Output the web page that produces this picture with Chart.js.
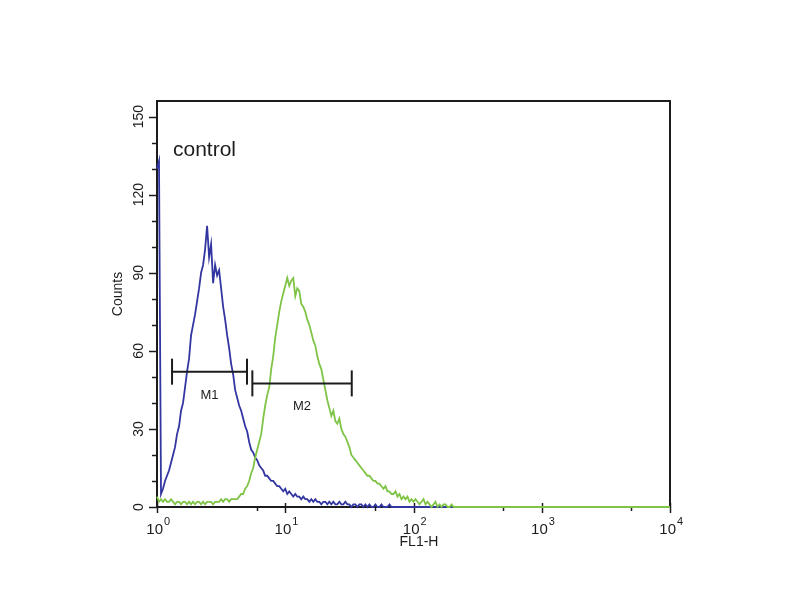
<!DOCTYPE html>
<html>
<head>
<meta charset="utf-8">
<script src="https://cdn.jsdelivr.net/npm/chart.js@4.4.0/dist/chart.umd.min.js"></script>
<style>
  body { margin: 0; background: #fff; }
  canvas { display: block; }
</style>
</head>
<body>
<canvas id="facsChart" width="800" height="600"></canvas>
<script>
// FL1-H channel numbers (1024 channels over 4 log decades)
const channels = [
  0, 4, 8, 12, 16, 20, 24, 28, 32, 36,
  40, 44, 48, 52, 56, 60, 64, 68, 72, 76,
  80, 84, 88, 92, 96, 100, 104, 108, 112, 116,
  120, 124, 128, 132, 136, 140, 144, 148, 152, 156,
  160, 164, 168, 172, 176, 180, 184, 188, 192, 196,
  200, 204, 208, 212, 216, 220, 224, 228, 232, 236,
  240, 244, 248, 252, 256, 260, 264, 268, 272, 276,
  280, 284, 288, 292, 296, 300, 304, 308, 312, 316,
  320, 324, 328, 332, 336, 340, 344, 348, 352, 356,
  360, 364, 368, 372, 376, 380, 384, 388, 392, 396,
  400, 404, 408, 412, 416, 420, 424, 428, 432, 436,
  440, 444, 448, 452, 456, 460, 464, 468, 472, 476,
  480, 484, 488, 492, 496, 500, 504, 508, 512, 516,
  520, 524, 528, 532, 536, 540, 544, 548, 552, 556,
  560, 564, 568, 572, 576, 580, 584, 588, 592, 596,
  600,
  640, 700, 800, 900, 1024
];

// control (blue) histogram counts
const blueCounts = [
  130, 133, 5, 7, 10, 12, 14, 17, 20, 23,
  28, 31, 37, 40, 46, 52, 57, 66, 70, 74,
  79, 84, 90, 93, 99, 108, 96, 101, 86, 93,
  89, 91, 84, 77, 72, 66, 61, 55, 51, 45,
  42, 39, 37, 34, 31, 29, 25, 22, 21, 19,
  18, 16, 15, 14, 12, 12, 11, 10, 10, 9,
  8, 8, 7, 6, 7, 5, 6, 5, 4, 5,
  4, 4, 3, 4, 3, 3, 2, 3, 2, 3,
  2, 2, 1, 2, 2, 1, 2, 1, 2, 1,
  1, 2, 1, 1, 2, 1, 1, 0, 1, 1,
  0, 1, 1, 0, 1, 0, 1, 0, 0, 1,
  0, 0, 1, 0, 0, 0, 1, 0, 0, 0,
  0, 0, 0, 0, 0, 0, 0, 0, 0, 0,
  0, 0, 0, 0, 0, 0, 0, 0, 0, 0,
  0, 0, 0, 0, 0, 0, 0, 0, 0, 0,
  0,
  0, 0, 0, 0, 0
];

// antibody (green) histogram counts
const greenCounts = [
  4, 2, 3, 2, 3, 2, 2, 3, 2, 1,
  2, 2, 1, 2, 2, 1, 2, 1, 2, 1,
  2, 2, 1, 2, 1, 2, 2, 2, 1, 2,
  2, 2, 3, 2, 3, 3, 2, 3, 3, 3,
  3, 4, 5, 5, 7, 8, 10, 13, 15, 19,
  22, 25, 28, 34, 39, 43, 46, 53, 58, 65,
  70, 75, 79, 82, 85, 88, 85, 87, 88, 81,
  84, 83, 78, 77, 75, 72, 70, 67, 64, 62,
  58, 55, 53, 49, 45, 41, 38, 35, 37, 33,
  32, 34, 30, 28, 27, 25, 23, 20, 19, 18,
  17, 16, 15, 14, 13, 12, 12, 11, 10, 10,
  9, 9, 8, 7, 8, 6, 6, 5, 5, 6,
  4, 5, 3, 4, 3, 4, 2, 3, 2, 3,
  2, 1, 2, 3, 1, 2, 1, 0, 1, 2,
  0, 1, 0, 1, 1, 0, 0, 1, 0, 0,
  0,
  0, 0, 0, 0, 0
];

const yTickLabels = [0, 30, 60, 90, 120, 150];
const xDecades = [0, 1, 2, 3, 4];

// marker gates (FL1-H range, count level)
const m1Range = [1.31, 5.03];
const m1Level = 52;
const m2Range = [5.54, 33];
const m2Level = 47.5;

function toPoints(counts) {
  return channels.map((ch, i) => ({ x: Math.pow(10, ch / 256), y: counts[i] }));
}

function markerData(range, level) {
  return [{ x: range[0], y: level }, { x: range[1], y: level }];
}

const FONT = '"Liberation Sans", Arial, sans-serif';

const facsDecor = {
  id: 'facsDecor',
  beforeDatasetsDraw(chart) {
    const { ctx, chartArea: a, scales: { x, y } } = chart;
    ctx.save();
    ctx.strokeStyle = '#1c1c1c';
    ctx.fillStyle = '#1c1c1c';
    ctx.lineWidth = 2;
    ctx.strokeRect(a.left, a.top, a.right - a.left, a.bottom - a.top);

    // y ticks every 5 counts
    ctx.lineWidth = 1.5;
    y.ticks.forEach(t => {
      if (t.value % 5 !== 0) return;
      const py = Math.round(y.getPixelForValue(t.value)) + 0.5;
      const len = t.value % 30 === 0 ? 8 : 5;
      ctx.beginPath();
      ctx.moveTo(a.left - len, py);
      ctx.lineTo(a.left, py);
      ctx.stroke();
    });

    // x ticks at 1..9 x 10^n
    x.ticks.forEach(t => {
      const e = Math.floor(Math.log10(t.value) + 1e-9);
      const sig = t.value / Math.pow(10, e);
      if (Math.abs(sig - Math.round(sig)) > 1e-6) return;
      const major = Math.round(sig) === 1;
      const px = Math.round(x.getPixelForValue(t.value)) + 0.5;
      ctx.beginPath();
      ctx.moveTo(px, a.bottom - (major ? 4 : 0));
      ctx.lineTo(px, a.bottom + (major ? 6 : 4));
      ctx.stroke();
    });

    // y labels, rotated
    ctx.font = '14px ' + FONT;
    ctx.textAlign = 'center';
    ctx.textBaseline = 'middle';
    yTickLabels.forEach(v => {
      const py = y.getPixelForValue(v);
      ctx.save();
      ctx.translate(a.left - 18, py);
      ctx.rotate(-Math.PI / 2);
      ctx.fillText(String(v), 0, 0);
      ctx.restore();
    });

    // x labels 10^n
    ctx.textBaseline = 'alphabetic';
    xDecades.forEach(d => {
      const px = x.getPixelForValue(Math.pow(10, d));
      ctx.font = '15px ' + FONT;
      ctx.textAlign = 'right';
      ctx.fillText('10', px + 6, a.bottom + 27);
      ctx.font = '11px ' + FONT;
      ctx.textAlign = 'left';
      ctx.fillText(String(d), px + 7, a.bottom + 18);
    });

    // axis titles
    ctx.font = '14px ' + FONT;
    ctx.textAlign = 'center';
    ctx.fillText('FL1-H', 419, a.bottom + 39);
    ctx.save();
    ctx.translate(118, 294);
    ctx.rotate(-Math.PI / 2);
    ctx.textBaseline = 'middle';
    ctx.fillText('Counts', 0, 0);
    ctx.restore();

    // sample name
    ctx.font = '21px ' + FONT;
    ctx.textAlign = 'left';
    ctx.fillText('control', a.left + 16, a.top + 55);

    // marker labels
    ctx.font = '13px ' + FONT;
    ctx.textAlign = 'center';
    [[m1Range, m1Level, 'M1'], [m2Range, m2Level, 'M2']].forEach(([r, lvl, name]) => {
      const px = x.getPixelForValue(Math.sqrt(r[0] * r[1]));
      const py = y.getPixelForValue(lvl);
      ctx.fillText(name, px, py + 27);
    });
    ctx.restore();
  }
};

const ctx = document.getElementById('facsChart').getContext('2d');
new Chart(ctx, {
  type: 'line',
  data: {
    datasets: [
      {
        data: markerData(m1Range, m1Level),
        borderColor: '#1c1c1c',
        borderWidth: 2,
        pointStyle: 'line',
        pointRotation: 90,
        pointRadius: 13,
        pointBorderWidth: 2,
        pointBorderColor: '#1c1c1c'
      },
      {
        data: markerData(m2Range, m2Level),
        borderColor: '#1c1c1c',
        borderWidth: 2,
        pointStyle: 'line',
        pointRotation: 90,
        pointRadius: 13,
        pointBorderWidth: 2,
        pointBorderColor: '#1c1c1c'
      },
      {
        data: toPoints(greenCounts),
        borderColor: '#7fc447',
        borderWidth: 1.8,
        pointRadius: 0,
        clip: false
      },
      {
        data: toPoints(blueCounts),
        borderColor: '#3236a0',
        borderWidth: 1.8,
        pointRadius: 0,
        clip: false
      }
    ]
  },
  options: {
    responsive: false,
    animation: false,
    layout: { padding: { left: 157, right: 130, top: 101, bottom: 93 } },
    scales: {
      x: { type: 'logarithmic', min: 1, max: 10000, display: false },
      y: { type: 'linear', min: 0, max: 156, display: false, ticks: { stepSize: 5 } }
    },
    plugins: {
      legend: { display: false },
      tooltip: { enabled: false }
    }
  },
  plugins: [facsDecor]
});
</script>
</body>
</html>
